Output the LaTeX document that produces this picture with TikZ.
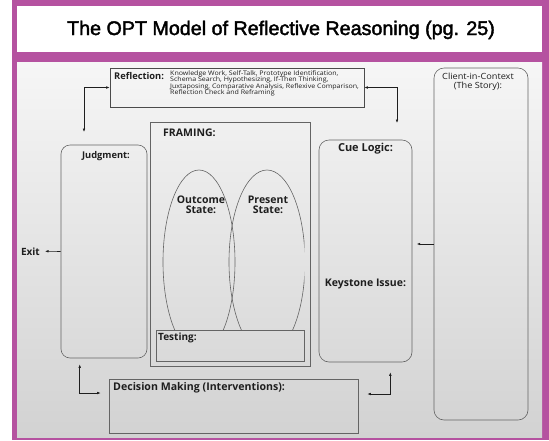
\documentclass[tikz,border=0pt]{standalone}
\usepackage{fontspec}
\setmainfont{Open Sans}
\newfontfamily\titlefont[FakeBold=2]{Liberation Sans}
\newfontfamily\smallfont[FakeStretch=1.12]{Open Sans}
\newfontfamily\clientfont[FakeStretch=1.08]{Open Sans}
\usetikzlibrary{arrows.meta,shapes.geometric,calc}
\definecolor{framepurple}{RGB}{181,82,160}
\definecolor{edgecol}{RGB}{100,100,100}
\definecolor{inkcol}{RGB}{30,30,30}
\definecolor{papertop}{RGB}{246,246,246}
\definecolor{paperbot}{RGB}{210,210,210}
\begin{document}
\begin{tikzpicture}[x=1pt,y=-1pt,
  panel/.style={draw=edgecol, line width=0.6pt, inner sep=0pt},
  rpanel/.style={panel, rounded corners=9pt},
  lbl/.style={font=\fontsize{10.5}{10.5}\selectfont\bfseries, text=inkcol, inner sep=0pt},
  small/.style={font=\smallfont\fontsize{6.3}{6.6}\selectfont, text=inkcol, inner sep=0pt, align=left},
  arr/.style={draw=inkcol, line width=0.6pt, -{Latex[length=3.5pt,width=2.6pt]}},
  dbl/.style={draw=inkcol, line width=0.6pt, {Latex[length=3.5pt,width=2.6pt]}-{Latex[length=3.5pt,width=2.6pt]}},
  oval/.style={ellipse, draw=edgecol, line width=0.6pt, inner sep=0pt, minimum width=72pt, minimum height=184pt}]
\useasboundingbox (0,0) rectangle (549,440);
% frame
\fill[white] (0,0) rectangle (549,440);
\fill[framepurple] (12,0) rectangle (549,440);
\fill[white] (17,6) rectangle (542,52);
\shade[top color=papertop, bottom color=paperbot] (17,62) rectangle (542,437);
\node[font=\titlefont\fontsize{19.7}{22}\selectfont, anchor=base, inner sep=0pt] (title) at (281,35) {The OPT Model of Reflective Reasoning (pg. 25)};

% boxes
\node[panel, draw=inkcol!80, minimum width=254pt, minimum height=39pt] (refl) at (237,87.5) {};
\node[rpanel, minimum width=86pt, minimum height=213pt] (judg) at (104,251.5) {};
\node[panel, minimum width=160pt, minimum height=244pt] (fram) at (230,244) {};
\node[panel, minimum width=148pt, minimum height=31pt] (test) at (230,345.5) {};
\node[rpanel, rounded corners=10pt, minimum width=93pt, minimum height=222pt] (cue) at (365.5,251) {};
\node[rpanel, rounded corners=10pt, minimum width=94pt, minimum height=352pt] (client) at (481,244) {};
\node[panel, minimum width=249pt, minimum height=54pt] (dec) at (233.5,406) {};

\begin{scope}
\clip (fram.north west) rectangle (test.north east);
\node[oval] (outc) at (199,262) {};
\node[oval, minimum width=76pt] (pres) at (267,262) {};
\end{scope}

% labels
\node[lbl, font=\fontsize{9.3}{9.3}\selectfont\bfseries, anchor=base west] (refllbl) at (114,79) {Reflection:};
\node[small, anchor=north west] (refltext) at (170,70) {Knowledge Work, Self-Talk, Prototype Identification,\\Schema Search, Hypothesizing, If-Then Thinking,\\Juxtaposing, Comparative Analysis, Reflexive Comparison,\\Reflection Check and Reframing};
\node[lbl, font=\fontsize{9.3}{9.3}\selectfont\bfseries, anchor=base] (judglbl) at (106,158) {Judgment:};
\node[lbl, font=\fontsize{10}{10}\selectfont\bfseries, anchor=base east] (exit) at (40,255) {Exit};
\node[lbl, anchor=base west] (framlbl) at (163,136) {FRAMING:};
\node[lbl, anchor=north, align=center] (outlbl) at (201,195.5) {Outcome\\State:};
\node[lbl, anchor=north, align=center] (preslbl) at (268,195.5) {Present\\State:};
\node[lbl, font=\fontsize{10}{10}\selectfont\bfseries, anchor=base west] (testlbl) at (158,340) {Testing:};
\node[lbl, font=\fontsize{11}{11}\selectfont\bfseries, anchor=base] (cuelbl) at (365.5,151) {Cue Logic:};
\node[lbl, anchor=base] (keylbl) at (365.5,286) {Keystone Issue:};
\node[anchor=north, align=center, inner sep=0pt, text=inkcol, font=\clientfont\fontsize{8.5}{8.6}\selectfont] (clientlbl) at (478,73) {Client-in-Context\\(The Story):};
\node[lbl, font=\fontsize{10.6}{10.6}\selectfont\bfseries, anchor=base west] (declbl) at (113,390) {Decision Making (Interventions):};

% connectors
\coordinate (jtop) at (84,132);
\coordinate (ctop) at (397,123);
\draw[dbl] (jtop) |- (refl.west);
\draw[dbl] (ctop) |- (refl.east);
\draw[arr] (judg.west) -- ([xshift=5pt]exit.east);
\draw[arr] (client.west) -- ++(-17,0);
\coordinate (bl1) at ([xshift=19pt,yshift=-6pt]judg.south west);
\coordinate (bl2) at ([xshift=-8pt,yshift=13pt]dec.west);
\draw[dbl] (bl1) |- (bl2);
\coordinate (br1) at ([xshift=-22pt,yshift=-10pt]cue.south east);
\coordinate (br2) at ([xshift=9pt,yshift=12pt]dec.east);
\draw[dbl] (br1) |- (br2);
\end{tikzpicture}
\end{document}
